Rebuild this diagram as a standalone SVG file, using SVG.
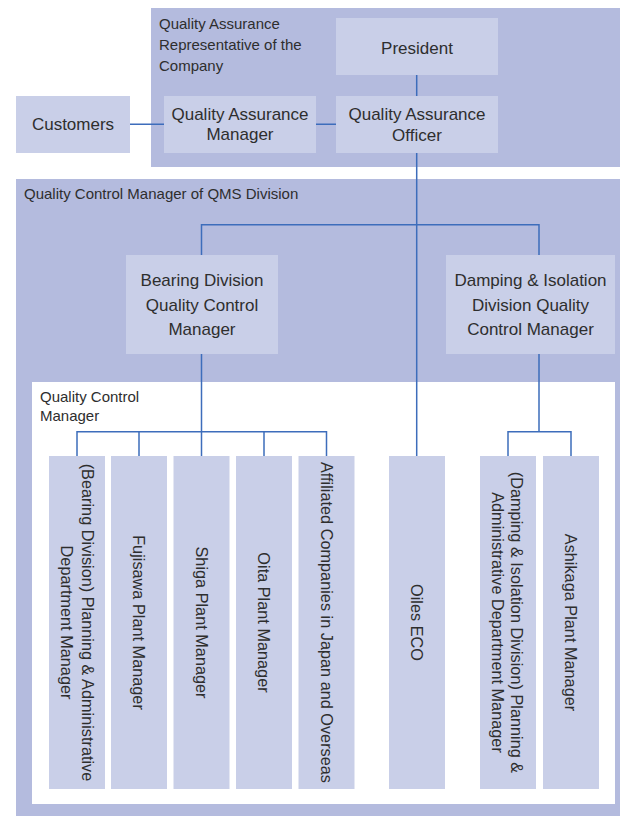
<svg xmlns="http://www.w3.org/2000/svg" width="620" height="816" viewBox="0 0 620 816">
<style>
.panel{fill:#b4bbde}
.white{fill:#ffffff}
.box{fill:#c9cfe8}
.t{font-family:"Liberation Sans",Arial,Helvetica,sans-serif;font-size:17px;fill:#2e2e2e;text-anchor:middle}
.lbl{font-family:"Liberation Sans",Arial,Helvetica,sans-serif;font-size:15px;fill:#2e2e2e}
.v{font-family:"Liberation Sans",Arial,Helvetica,sans-serif;font-size:16.3px;fill:#2e2e2e;text-anchor:middle}
.c{fill:none;stroke:#3d6dbb;stroke-width:1.5}
</style>
<rect width="620" height="816" fill="#ffffff"/>
<g id="panel-qa-rep">
<rect class="panel" x="151" y="8" width="469" height="159"/>
<text class="lbl" x="159" y="28.5">Quality Assurance</text>
<text class="lbl" x="159" y="49.5">Representative of the</text>
<text class="lbl" x="159" y="70.5">Company</text>
</g>
<g id="panel-qms">
<rect class="panel" x="16" y="179" width="604" height="637"/>
<text class="lbl" x="24" y="198.5">Quality Control Manager of QMS Division</text>
</g>
<g id="panel-qc">
<rect class="white" x="32" y="382" width="583" height="422"/>
<text class="lbl" x="40" y="401.5">Quality Control</text>
<text class="lbl" x="40" y="420.5">Manager</text>
</g>
<g id="connectors">
<path class="c" d="M130 124.3H164M316 124.3H336"/>
<path class="c" d="M416.7 75V96M416.7 153V456"/>
<path class="c" d="M201.5 255V224.7H539V255"/>
<path class="c" d="M201.5 354V456M77 456V431.7H326.5V456M139 431.7V456M264 431.7V456"/>
<path class="c" d="M539 354V431.7M508 456V431.7H571V456"/>
</g>
<g id="customers">
<rect class="box" x="16" y="96" width="114" height="57"/>
<text class="t" x="73" y="130">Customers</text>
</g>
<g id="qa-manager">
<rect class="box" x="164" y="96" width="152" height="57"/>
<text class="t" x="240" y="120">Quality Assurance</text>
<text class="t" x="240" y="140">Manager</text>
</g>
<g id="president">
<rect class="box" x="336" y="18" width="162" height="57"/>
<text class="t" x="417" y="53.5">President</text>
</g>
<g id="qa-officer">
<rect class="box" x="336" y="96" width="162" height="57"/>
<text class="t" x="417" y="120">Quality Assurance</text>
<text class="t" x="417" y="140.5">Officer</text>
</g>
<g id="bearing-qc">
<rect class="box" x="126" y="255" width="152" height="99"/>
<text class="t" x="202" y="286">Bearing Division</text>
<text class="t" x="202" y="310.5">Quality Control</text>
<text class="t" x="202" y="335">Manager</text>
</g>
<g id="damping-qc">
<rect class="box" x="446" y="255" width="169" height="99"/>
<text class="t" x="530.5" y="286">Damping &amp; Isolation</text>
<text class="t" x="530.5" y="310.5">Division Quality</text>
<text class="t" x="530.5" y="335">Control Manager</text>
</g>
<g id="bearing-planning">
<rect class="box" x="49" y="456" width="56" height="333"/>
<text class="v" transform="translate(77 622.5) rotate(90)" x="0" y="-4.5">(Bearing Division) Planning &amp; Administrative</text>
<text class="v" transform="translate(77 622.5) rotate(90)" x="0" y="16.5">Department Manager</text>
</g>
<g id="fujisawa">
<rect class="box" x="111" y="456" width="56" height="333"/>
<text class="v" transform="translate(139 622.5) rotate(90)" x="0" y="6">Fujisawa Plant Manager</text>
</g>
<g id="shiga">
<rect class="box" x="173.5" y="456" width="56" height="333"/>
<text class="v" transform="translate(201.5 622.5) rotate(90)" x="0" y="6">Shiga Plant Manager</text>
</g>
<g id="oita">
<rect class="box" x="236" y="456" width="56" height="333"/>
<text class="v" transform="translate(264 622.5) rotate(90)" x="0" y="6">Oita Plant Manager</text>
</g>
<g id="affiliated">
<rect class="box" x="298.5" y="456" width="56" height="333"/>
<text class="v" transform="translate(326.5 622.5) rotate(90)" x="0" y="6">Affiliated Companies in Japan and Overseas</text>
</g>
<g id="oiles-eco">
<rect class="box" x="389" y="456" width="56" height="333"/>
<text class="v" transform="translate(417 622.5) rotate(90)" x="0" y="6">Oiles ECO</text>
</g>
<g id="damping-planning">
<rect class="box" x="480" y="456" width="56" height="333"/>
<text class="v" transform="translate(508 622.5) rotate(90)" x="0" y="-3">(Damping &amp; Isolation Division) Planning &amp;</text>
<text class="v" transform="translate(508 622.5) rotate(90)" x="0" y="16.5">Administrative Department Manager</text>
</g>
<g id="ashikaga">
<rect class="box" x="543" y="456" width="56" height="333"/>
<text class="v" transform="translate(571 622.5) rotate(90)" x="0" y="6">Ashikaga Plant Manager</text>
</g>
</svg>
